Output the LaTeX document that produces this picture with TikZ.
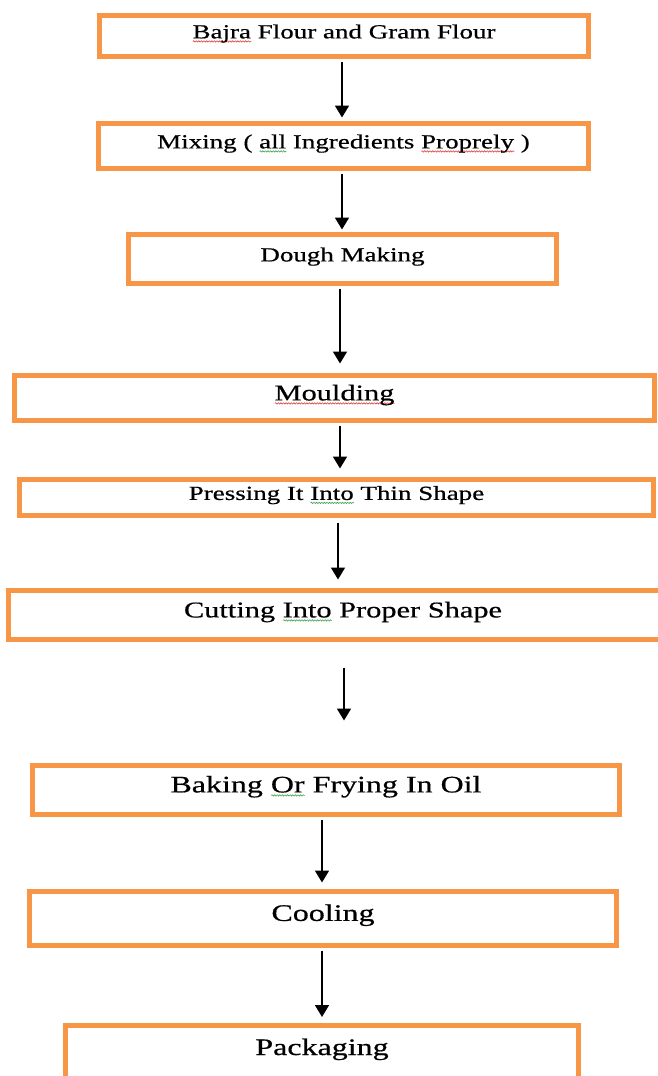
\documentclass[tikz,border=0pt]{standalone}
\usepackage{fontspec}
\setmainfont{Liberation Serif}[FakeStretch=1.35,FakeBold=0.6]
\usetikzlibrary{arrows.meta,decorations.pathmorphing}
\definecolor{boxorange}{HTML}{F79646}
\definecolor{spellred}{HTML}{E0403A}
\definecolor{spellgreen}{HTML}{3FA34D}
% spell-check squiggle under a word
\newcommand\wavy[2]{\setbox0\hbox{#2}%
    \rlap{\tikz[baseline=0pt,x=1pt,y=1pt]\draw[#1,line width=0.6pt,decorate,
        decoration={snake,amplitude=0.7pt,segment length=2.6pt}] (0,-3) -- (\the\wd0,-3);}#2}

\begin{document}
\begin{tikzpicture}[x=1pt,y=-1pt,
    box/.style={draw=boxorange,line width=5pt,inner sep=0pt,
        font=\fontsize{#1}{#1}\selectfont,text height=0.7em,text depth=0.22em},
    box/.default=20,
    >={Triangle[width=14pt,length=12pt]},
    flow/.style={->,line width=1.8pt,shorten <=2.5pt,shorten >=2.5pt}]
    \path[use as bounding box] (0,0) rectangle (658,1076);

    \node[box,minimum width=489,minimum height=41]       (b1) at (344,36)      {\wavy{spellred}{Bajra} Flour and Gram  Flour};
    \node[box,minimum width=490,minimum height=45]       (b2) at (343.5,146)   {Mixing ( \wavy{spellgreen}{all} Ingredients \wavy{spellred}{Proprely} )};
    \node[box,minimum width=428,minimum height=49]       (b3) at (342.5,259)   {Dough Making};
    \node[box=22.5,minimum width=640,minimum height=45]  (b4) at (334.5,398)   {\wavy{spellred}{Moulding}};
    \node[box,minimum width=634,minimum height=36]       (b5) at (336.5,497.5) {Pressing It \wavy{spellgreen}{Into} Thin Shape};
    \node[box=22.5,minimum width=669,minimum height=49]  (b6) at (343,615)     {Cutting \wavy{spellgreen}{Into} Proper Shape};
    \node[box=23.7,minimum width=587,minimum height=49]  (b7) at (326,790)     {Baking \wavy{spellgreen}{Or} Frying In Oil};
    \node[box=23.7,minimum width=587,minimum height=54]  (b8) at (323,918.5)   {Cooling};
    \node[box=23.7,minimum width=513,text height=30pt,text depth=50pt,anchor=north]
                                                         (b9) at (322,1022.5)  {Packaging};

    \path[flow] ([xshift=-2]b1.south)  edge[shorten >=3.5pt]  ([xshift=-1.5]b2.north)
                ([xshift=-1.5]b2.south) edge                   ([xshift=-0.5]b3.north)
                ([xshift=-2.5]b3.south) edge[shorten >=9.5pt]  ([xshift=5.5]b4.north)
                ([xshift=5.5]b4.south)  edge[shorten >=8.5pt]  ([xshift=3.5]b5.north)
                ([xshift=1.5]b5.south)  edge[shorten <=4.5pt,shorten >=8.5pt] ([xshift=-5]b6.north)
                ([xshift=1]b6.south)    edge[shorten <=25.5pt,shorten >=42.5pt] ([xshift=18]b7.north)
                ([xshift=-4]b7.south)   edge[shorten >=6.5pt]  ([xshift=-1]b8.north)
                ([xshift=-1]b8.south)   edge[shorten >=5.5pt]  (b9.north);
\end{tikzpicture}
\end{document}
